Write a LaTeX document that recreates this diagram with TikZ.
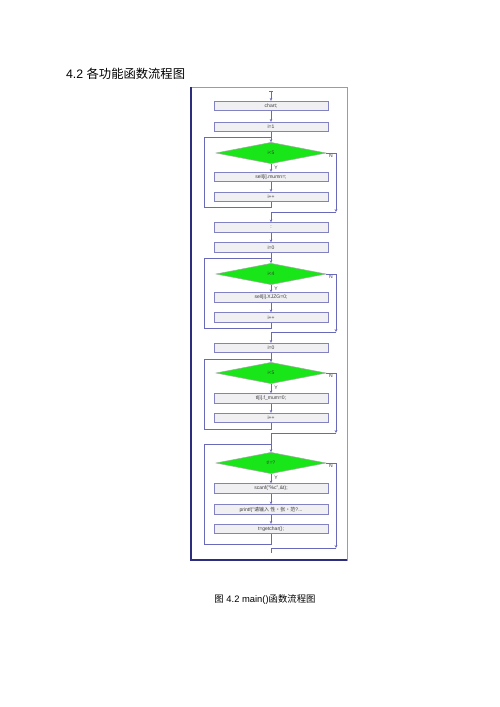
\documentclass[tikz,border=0pt]{standalone}
\usepackage{fontspec}
\setmainfont{Liberation Sans}
\newfontfamily\cjk{Noto Sans CJK SC}
\usetikzlibrary{shapes.geometric,arrows.meta}
\definecolor{framec}{RGB}{45,45,125}
\definecolor{framel}{RGB}{150,150,200}
\definecolor{linec}{RGB}{105,105,185}
\definecolor{boxc}{RGB}{130,130,195}
\definecolor{boxfill}{RGB}{240,240,243}
\definecolor{testc}{RGB}{25,230,25}
\definecolor{txtc}{RGB}{60,60,60}
\begin{document}
\begin{tikzpicture}[x=0.3mm,y=-0.3mm,
    stepbox/.style={draw=boxc,fill=boxfill,line width=0.6pt,minimum width=3.42cm,
      minimum height=0.29cm,inner sep=0pt,text=txtc,font=\fontsize{4.3}{5}\selectfont},
    test/.style={diamond,draw=gray!70,fill=testc,line width=0.4pt,minimum width=3.3cm,
      minimum height=0.64cm,inner sep=0pt,text=txtc,font=\fontsize{4.3}{5}\selectfont},
    flow/.style={draw=linec,line width=0.7pt},
    arr/.style={flow,-{Stealth[length=2.4pt,width=2.2pt]}},
    lab/.style={inner sep=0pt,text=txtc,font=\fontsize{4.3}{5}\selectfont}]

\useasboundingbox[fill=white] (0,0) rectangle (500,707);

% heading and caption
\node[anchor=west,font=\fontsize{10.5}{12}\selectfont] at (62,74) (title) {4.2 {\cjk 各功能函数流程图}};
\node[font=\fontsize{8}{10}\selectfont] at (265,600) (cap) {{\cjk 图} 4.2 main(){\cjk 函数流程图}};

% frame
\draw[framel,line width=0.5pt] (191,87) rectangle (347,560);
\draw[framec,line width=1.3pt] (191,87) -- (191,560) -- (347,560);

% first loop
\coordinate (st) at (271,91);
\node[stepbox] at (271,106) (a1) {chart;};
\node[stepbox] at (271,127) (a2) {i=1};
\node[test] at (271,153) (d1) {i<5};
\node[stepbox] at (271,177) (b1) {sell[i].mumn=;};
\node[stepbox] at (271,197) (c1) {i++};
\node[lab] at (276,168) (y1) {Y};
\node[lab] at (331,156) (n1) {N};
\coordinate (lb1) at (271,207);
\coordinate (ll1) at (204,207);
\coordinate (lt1) at (204,137);
\coordinate (t1) at (271,137);
\coordinate (nr1) at (336,153);
\coordinate (nb1) at (336,212);
\coordinate (j1) at (271,212);

\draw[flow] (269,91) -- (273,91);
\draw[arr] (st) -- (a1);
\draw[arr] (a1) -- (a2);
\draw[arr] (a2) -- (d1);
\draw[arr] (d1) -- (b1);
\draw[arr] (b1) -- (c1);
\draw[flow] (c1) -- (lb1) -- (ll1) -- (lt1) -- (t1);
\draw[arr] (d1.east) -- (nr1) -- (nb1);

% second loop
\node[stepbox] at (271,227.5) (a3) {:};
\node[stepbox] at (271,247.5) (a4) {i=0};
\node[test] at (271,274) (d2) {i<4};
\node[stepbox] at (271,297.5) (b2) {sell[i].XJZG=0;};
\node[stepbox] at (271,317.5) (c2) {i++};
\node[lab] at (276,289) (y2) {Y};
\node[lab] at (331,277) (n2) {N};
\coordinate (lb2) at (271,328);
\coordinate (ll2) at (204,328);
\coordinate (lt2) at (204,258);
\coordinate (t2) at (271,258);
\coordinate (nr2) at (336,274);
\coordinate (nb2) at (336,332);
\coordinate (j2) at (271,332);

\draw[arr] (nb1) -- (j1) -- (a3);
\draw[arr] (a3) -- (a4);
\draw[arr] (a4) -- (d2);
\draw[arr] (d2) -- (b2);
\draw[arr] (b2) -- (c2);
\draw[flow] (c2) -- (lb2) -- (ll2) -- (lt2) -- (t2);
\draw[arr] (d2.east) -- (nr2) -- (nb2);

% third loop
\node[stepbox] at (271,348) (a5) {i=0};
\node[test] at (271,373) (d3) {i<5};
\node[stepbox] at (271,398.5) (b3) {tl[i].f\_mum=0;};
\node[stepbox] at (271,418) (c3) {i++};
\node[lab] at (276,388) (y3) {Y};
\node[lab] at (331,376) (n3) {N};
\coordinate (lb3) at (271,429);
\coordinate (ll3) at (204,429);
\coordinate (lt3) at (204,359);
\coordinate (t3) at (271,359);
\coordinate (nr3) at (336,373);
\coordinate (nb3) at (336,433);
\coordinate (j3) at (271,433);

\draw[arr] (nb2) -- (j2) -- (a5);
\draw[arr] (a5) -- (d3);
\draw[arr] (d3) -- (b3);
\draw[arr] (b3) -- (c3);
\draw[flow] (c3) -- (lb3) -- (ll3) -- (lt3) -- (t3);
\draw[arr] (d3.east) -- (nr3) -- (nb3);

% last loop
\node[test] at (271,463) (d4) {t!=?};
\node[stepbox] at (271,488.5) (b4) {scanf("\%c",\&t);};
\node[stepbox] at (271,509.5) (b5) {printf("{\cjk 请输入 性·张·范}?...};
\node[stepbox] at (271,529) (b6) {t=getchar();};
\node[lab] at (276,478) (y4) {Y};
\node[lab] at (331,466) (n4) {N};
\coordinate (t4) at (271,444);
\coordinate (lt4) at (204,444);
\coordinate (ll4) at (204,544);
\coordinate (lb4) at (271,544);
\coordinate (nr4) at (336,463);
\coordinate (nb4) at (336,548);
\coordinate (j4) at (271,548);
\coordinate (fin) at (271,553);

\draw[flow] (nb3) -- (j3) -- (t4);
\draw[arr] (t4) -- (d4);
\draw[arr] (d4) -- (b4);
\draw[arr] (b4) -- (b5);
\draw[arr] (b5) -- (b6);
\draw[flow] (b6) -- (lb4) -- (ll4) -- (lt4) -- (t4);
\draw[arr] (d4.east) -- (nr4) -- (nb4);
\draw[flow] (nb4) -- (j4) -- (fin);

\end{tikzpicture}
\end{document}
